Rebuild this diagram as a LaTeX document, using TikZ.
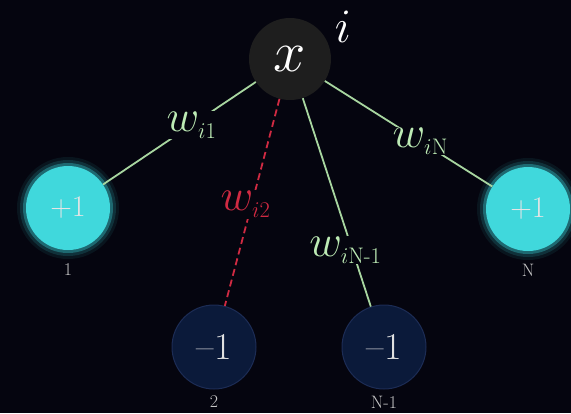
\documentclass[tikz,border=0pt]{standalone}
\usepackage{fix-cm}
\usepackage{amsmath}
\usetikzlibrary{calc}

\definecolor{bgnavy}{HTML}{05050F}
\definecolor{cyanfill}{HTML}{40D8DC}
\definecolor{cyanglow}{HTML}{3AD2DA}
\definecolor{downfill}{HTML}{0B1A3A}
\definecolor{downrim}{HTML}{1C2C55}
\definecolor{centfill}{HTML}{1E1E1E}
\definecolor{edgegreen}{HTML}{A8D6A0}
\definecolor{labgreen}{HTML}{BDEBB5}
\definecolor{edgered}{HTML}{D02A42}

\begin{document}
\begin{tikzpicture}[x=1pt,y=-1pt,
  neuron/.style={circle,minimum size=84pt,inner sep=0pt},
  upspin/.style={neuron,fill=cyanfill,text=white!90!black,
    font=\fontsize{30}{34}\selectfont,
    preaction={draw=cyanglow,line width=18pt,opacity=.08},
    preaction={draw=cyanglow,line width=12pt,opacity=.15},
    preaction={draw=cyanglow,line width=6pt,opacity=.35}},
  downspin/.style={neuron,fill=downfill,draw=downrim,line width=1pt,
    text=white!88!black,font=\fontsize{38}{40}\selectfont},
  spinidx/.style={text=white!78!black,font=\fontsize{18}{20}\selectfont},
  wlab/.style={fill=bgnavy,inner sep=1pt,text=labgreen,
    font=\fontsize{45}{50}\selectfont},
  link/.style={edgegreen,line width=1.8pt},
  ]
  \useasboundingbox (0,0) rectangle (571,413);
  \fill[bgnavy] (0,0) rectangle (571,413);

  % spins
  \node[neuron,minimum size=82pt,fill=centfill,text=white,
    font=\fontsize{58}{60}\selectfont] (x) at (290,59) {$x$};
  \node[text=white,font=\fontsize{48}{50}\selectfont] (iname) at (343,27) {$i$};

  \node[upspin,label={[spinidx,label distance=10pt]below:1}] (p1) at (68,208) {+1};
  \node[downspin,label={[spinidx,label distance=3pt]below:2}] (p2) at (214,347) {--1};
  \node[downspin,label={[spinidx,label distance=3pt]below:N-1}] (pN1) at (384,347) {--1};
  \node[upspin,label={[spinidx,label distance=9pt]below:N}] (pN) at (528,209) {+1};

  % couplings
  \draw[link] (x) -- node[wlab,pos=.42] {$w_{\scriptscriptstyle i1}$} (p1);
  \draw[edgered,line width=1.8pt,dash pattern=on 7pt off 4pt] (x) --
    node[wlab,text=edgered,pos=.51,xshift=-6pt] {$w_{\scriptscriptstyle i2}$} (p2);
  \draw[link] (x) --
    node[wlab,pos=.73,xshift=-7pt] {$w_{\scriptscriptstyle i\mathrm{N\text{-}1}}$} (pN1);
  \draw[link] (x) -- node[wlab,pos=.57] {$w_{\scriptscriptstyle i\mathrm{N}}$} (pN);
\end{tikzpicture}
\end{document}
